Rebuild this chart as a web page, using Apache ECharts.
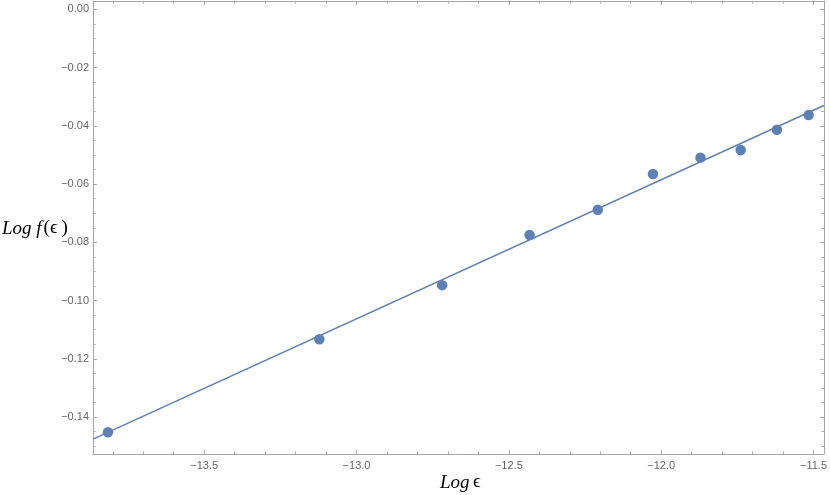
<!DOCTYPE html>
<html>
<head>
<meta charset="utf-8">
<script src="https://cdn.jsdelivr.net/npm/echarts@6/dist/echarts.min.js"></script>
<style>html,body{margin:0;padding:0;background:#fff}#c{width:830px;height:495px}</style>
</head>
<body>
<div id="c"></div>
<script>
// Data
const dataX = [-13.816, -13.122, -12.719, -12.432, -12.208, -12.027, -11.871, -11.739, -11.620, -11.516];
const dataY = [-0.1452, -0.1133, -0.0947, -0.0775, -0.0688, -0.0565, -0.0509, -0.0483, -0.0413, -0.0363];
// Fitted line end points
const fitX = [-13.865, -11.466];
const fitY = [-0.1476, -0.0330];
// Axis ranges and ticks
const xRange = [-13.865, -11.466];
const yRange = [-0.1527, 0.0029];
const xMajorTicks = [-13.5, -13.0, -12.5, -12.0, -11.5];
const yMajorTicks = [0.00, -0.02, -0.04, -0.06, -0.08, -0.10, -0.12, -0.14];
const xMinorStep = 0.1;
const yMinorStep = 0.005;

function minorTicks(range, step, majors) {
  const out = [];
  const start = Math.ceil(range[0] / step - 1e-9);
  const end = Math.floor(range[1] / step + 1e-9);
  for (let i = start; i <= end; i++) {
    const v = +(i * step).toFixed(4);
    if (!majors.some(m => Math.abs(m - v) < 1e-9)) out.push(v);
  }
  return out;
}
const xMinorTicks = minorTicks(xRange, xMinorStep, xMajorTicks);
const yMinorTicks = minorTicks(yRange, yMinorStep, yMajorTicks);

const frameColor = '#a6a6a6';
const labelColor = '#666666';
const mainColor = '#5e81b5';
const fmt = d => v => v.toFixed(d).replace('-', '\u2212');

function xAx(pos, ticks, len, showLabel, showLine) {
  return {
    type: 'value', position: pos, min: xRange[0], max: xRange[1],
    axisLine: {show: showLine, onZero: false, lineStyle: {color: frameColor, width: 1}},
    axisTick: {show: true, inside: true, length: len, customValues: ticks, lineStyle: {color: frameColor, width: 1}},
    axisLabel: showLabel ? {show: true, customValues: ticks, formatter: fmt(1), color: labelColor,
      fontFamily: 'Liberation Sans', fontSize: 11, margin: 6} : {show: false},
    splitLine: {show: false}
  };
}
function yAx(pos, ticks, len, showLabel, showLine) {
  return {
    type: 'value', position: pos, min: yRange[0], max: yRange[1],
    axisLine: {show: showLine, onZero: false, lineStyle: {color: frameColor, width: 1}},
    axisTick: {show: true, inside: true, length: len, customValues: ticks, lineStyle: {color: frameColor, width: 1}},
    axisLabel: showLabel ? {show: true, customValues: ticks, formatter: fmt(2), color: labelColor,
      fontFamily: 'Liberation Sans', fontSize: 11, margin: 4} : {show: false},
    splitLine: {show: false}
  };
}

const chart = echarts.init(document.getElementById('c'), null, {renderer: 'canvas'});
chart.setOption({
  animation: false,
  backgroundColor: '#ffffff',
  grid: {left: 93, right: 2, top: 1, bottom: 41, containLabel: false},
  xAxis: [
    xAx('bottom', xMajorTicks, 4, true, true),
    xAx('bottom', xMinorTicks, 2.5, false, false),
    xAx('top', xMajorTicks, 4, false, true),
    xAx('top', xMinorTicks, 2.5, false, false)
  ],
  yAxis: [
    yAx('left', yMajorTicks, 4, true, true),
    yAx('left', yMinorTicks, 2.5, false, false),
    yAx('right', yMajorTicks, 4, false, true),
    yAx('right', yMinorTicks, 2.5, false, false)
  ],
  graphic: [
    {type: 'text', left: 440, top: 473, style: {
      text: '{i|Log} {n|\u03f5}', rich: {
        i: {fontFamily: 'Liberation Serif', fontStyle: 'italic', fontSize: 19, fill: '#000'},
        n: {fontFamily: 'Liberation Serif', fontSize: 19, fill: '#000'}
      }}},
    {type: 'text', left: 2, top: 219, style: {
      text: '{i|Log f}{n|(\u03f5\u2009)}', rich: {
        i: {fontFamily: 'Liberation Serif', fontStyle: 'italic', fontSize: 19, fill: '#000'},
        n: {fontFamily: 'Liberation Serif', fontSize: 19, fill: '#000', padding: [0, 0, 0, 2]}
      }}}
  ],
  series: [
    {type: 'line', xAxisIndex: 0, yAxisIndex: 0, data: fitX.map((x, i) => [x, fitY[i]]),
      showSymbol: false, symbol: 'none', lineStyle: {color: mainColor, width: 1.5}, z: 2},
    {type: 'scatter', xAxisIndex: 0, yAxisIndex: 0, data: dataX.map((x, i) => [x, dataY[i]]),
      symbol: 'circle', symbolSize: 10.5, itemStyle: {color: mainColor, opacity: 1}, z: 3}
  ]
});
</script>
</body>
</html>
